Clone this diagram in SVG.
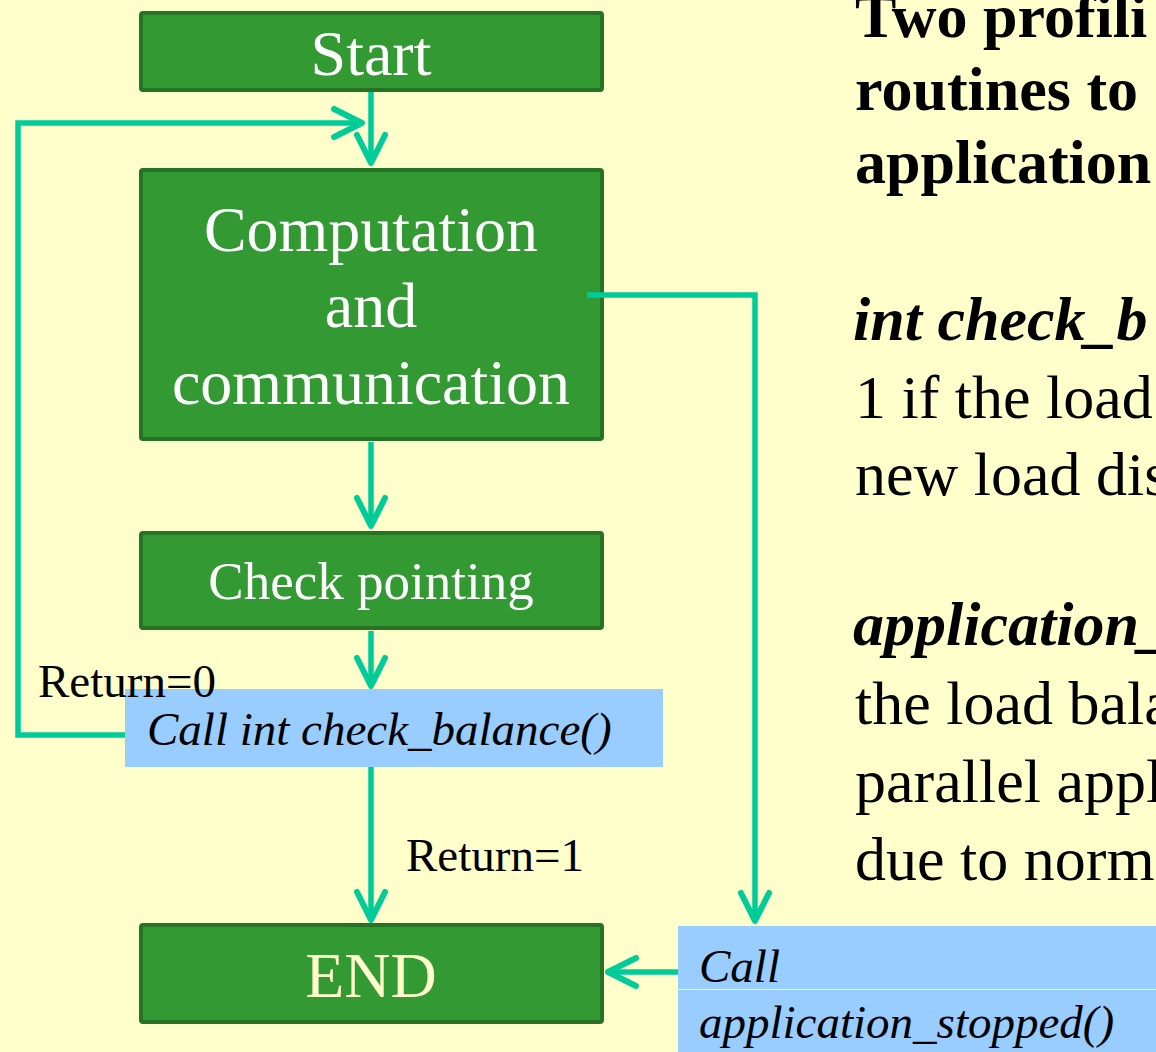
<svg xmlns="http://www.w3.org/2000/svg" width="1156" height="1052" viewBox="0 0 1156 1052">
<defs>
<style>
.box{fill:#339933;stroke:#267326;stroke-width:4}
.call{fill:#99CCFF}
.wt{font-family:"Liberation Serif","Times New Roman",serif;fill:#FFFFFF;text-anchor:middle}
.lbl{font-family:"Liberation Serif","Times New Roman",serif;fill:#000000;font-size:47px}
.it{font-style:italic}
.rt{font-family:"Liberation Serif","Times New Roman",serif;fill:#000000;font-size:62px}
.b{font-weight:bold}
.conn{fill:none;stroke:#00CC99;stroke-width:5.5;stroke-linejoin:miter}
.arr{marker-end:url(#ah)}
</style>
<marker id="ah" markerUnits="userSpaceOnUse" viewBox="-34 -20 40 40" markerWidth="40" markerHeight="40" refX="0" refY="0" orient="auto" overflow="visible">
<path d="M-28,-14 L0,0 L-28,14" fill="none" stroke="#00CC99" stroke-width="6" stroke-linecap="round" stroke-linejoin="round"/>
</marker>
</defs>
<rect x="0" y="0" width="1156" height="1052" fill="#FFFFCC"/>

<g id="start">
<rect class="box" x="141" y="13" width="461" height="77" rx="2"/>
<text class="wt" x="371" y="75" font-size="64">Start</text>
</g>

<g id="computation">
<rect class="box" x="141" y="170" width="461" height="269" rx="2"/>
<text class="wt" x="371" y="251" font-size="64">Computation</text>
<text class="wt" x="371" y="327" font-size="64">and</text>
<text class="wt" x="371" y="404" font-size="64">communication</text>
</g>

<g id="checkpointing">
<rect class="box" x="141" y="533" width="461" height="95" rx="2"/>
<text class="wt" x="371" y="599" font-size="53">Check pointing</text>
</g>

<g id="checkbalance">
<rect class="call" x="125" y="689" width="538" height="78"/>
<text class="lbl it" x="147" y="745">Call int check_balance()</text>
</g>

<g id="return0">
<text class="lbl" x="38" y="697">Return=0</text>
</g>

<g id="return1">
<text class="lbl" x="406" y="871">Return=1</text>
</g>

<g id="end">
<rect class="box" x="141" y="925" width="461" height="97" rx="2"/>
<text class="wt" x="371" y="997" font-size="64" style="fill:#FFFFCC">END</text>
</g>

<g id="appstopped">
<rect class="call" x="678" y="926" width="478" height="126"/>
<line x1="678" y1="989.5" x2="1156" y2="989.5" stroke="#EAF4FF" stroke-width="1"/>
<text class="lbl it" x="699" y="982">Call</text>
<text class="lbl it" x="699" y="1038">application_stopped()</text>
</g>

<g id="connectors">
<path class="conn arr" d="M371,92 L371,163"/>
<path class="conn arr" d="M125,735 L18,735 L18,123 L362,123"/>
<path class="conn arr" d="M371,442 L371,526"/>
<path class="conn arr" d="M371,631 L371,686"/>
<path class="conn arr" d="M371,767 L371,920"/>
<path class="conn arr" d="M587,295 L755,295 L755,921"/>
<path class="conn arr" d="M678,972 L608,972"/>
</g>

<g id="description">
<text class="rt b" x="855" y="37">Two profili</text>
<text class="rt b" x="855" y="110">routines to</text>
<text class="rt b" x="855" y="183" font-size="63">application</text>
<text class="rt b it" x="853" y="340">int check_b</text>
<text class="rt" x="855" y="418">1 if the load</text>
<text class="rt" x="855" y="495">new load dis</text>
<text class="rt b it" x="853" y="645">application_</text>
<text class="rt" x="855" y="724">the load bala</text>
<text class="rt" x="855" y="802">parallel appl</text>
<text class="rt" x="855" y="880">due to norm</text>
</g>
</svg>
